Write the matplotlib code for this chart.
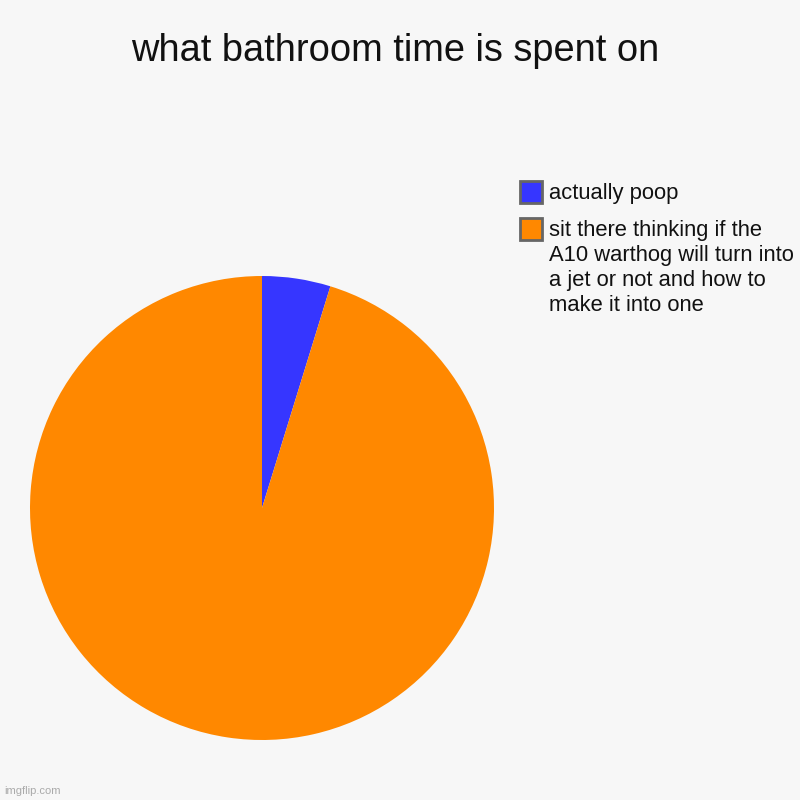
import matplotlib.pyplot as plt
from matplotlib.patches import Rectangle

plt.rcParams['font.family'] = ['Liberation Sans', 'DejaVu Sans']

title = "what bathroom time is spent on"
labels = ["actually poop",
          "sit there thinking if the\nA10 warthog will turn into\na jet or not and how to\nmake it into one"]
values = [1, 20]
colors = ["#3636ff", "#ff8800"]
bg = "#f7f7f7"

fig = plt.figure(figsize=(8, 8), dpi=100, facecolor=bg)
fig.text(0.494, 0.936, title, ha="center", va="center", fontsize=27.4, color="#111111")

# pie: centre (262, 508) px, radius 232 px
ax = fig.add_axes([30 / 800, 60 / 800, 464 / 800, 464 / 800])
ax.set_facecolor(bg)
ax.pie(values, colors=colors, startangle=90, counterclock=False,
       wedgeprops={"linewidth": 0})
ax.set_xlim(-1, 1)
ax.set_ylim(-1, 1)
ax.set_aspect("equal")
ax.axis("off")

# legend drawn by hand, boxes top-aligned with first text line
tops = [181, 218]
for lab, col, top in zip(labels, colors, tops):
    fig.patches.append(Rectangle((520 / 800, 1 - (top + 22) / 800), 22 / 800, 22 / 800,
                                 facecolor=col, edgecolor="#666666", linewidth=2,
                                 transform=fig.transFigure, figure=fig))
    fig.text(549 / 800, 1 - (top + 2) / 800, lab, ha="left", va="top",
             fontsize=15.8, linespacing=1.24, color="#111111")

fig.text(0.005, 0.008, "imgflip.com", fontsize=8, color="#aaaaaa")

fig.savefig("out.png", dpi=100, facecolor=bg)
